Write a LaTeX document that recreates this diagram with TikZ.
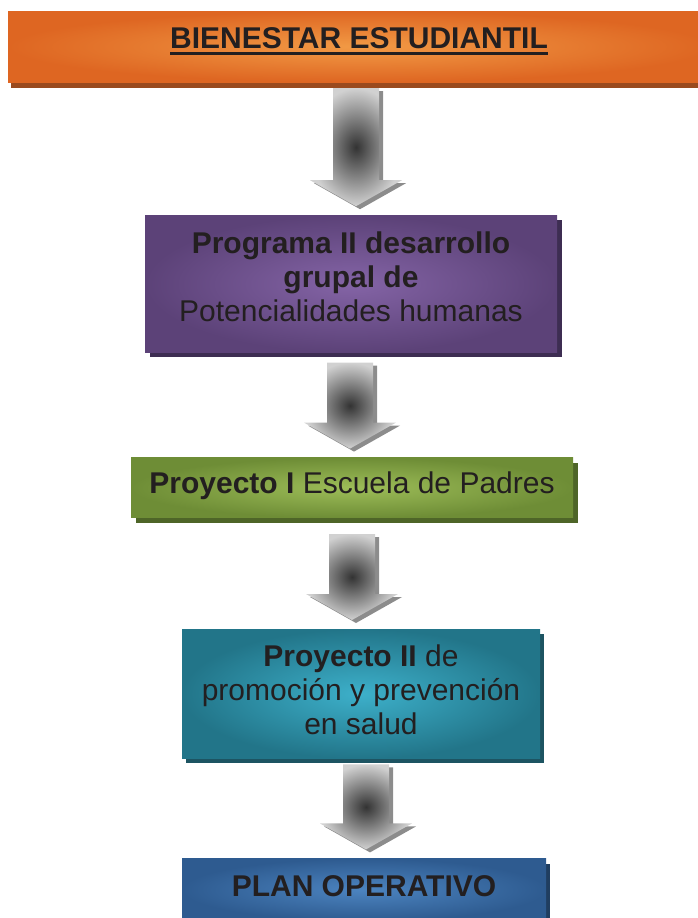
\documentclass[tikz,border=0pt]{standalone}
\usepackage{fontspec}
\setmainfont{Liberation Sans}
\usetikzlibrary{positioning,calc,shadows}

\definecolor{txt}{HTML}{231F20}
\definecolor{orgin}{HTML}{F29A45}
\definecolor{orgout}{HTML}{DE6622}
\definecolor{orgsh}{HTML}{9A4A1E}
\definecolor{purin}{HTML}{8464A6}
\definecolor{purout}{HTML}{5C4278}
\definecolor{pursh}{HTML}{3D2D52}
\definecolor{grnin}{HTML}{9DBD58}
\definecolor{grnout}{HTML}{6E8D36}
\definecolor{grnsh}{HTML}{4E6528}
\definecolor{tealin}{HTML}{3DB0CA}
\definecolor{tealout}{HTML}{227589}
\definecolor{tealsh}{HTML}{1D5462}
\definecolor{bluin}{HTML}{4C84C0}
\definecolor{bluout}{HTML}{2E5B90}
\definecolor{blush}{HTML}{203E60}

\newcommand\ultitle[1]{\setbox0\hbox{#1}\rlap{\rule[-7pt]{\wd0}{3pt}}\box0}

\begin{document}
\begin{tikzpicture}[
  x=1pt,y=1pt,
  font=\fontsize{30}{34}\selectfont,
  box/.style={rectangle,inner sep=0pt,align=center,text=txt,shading=radial},
  orgbox/.style={box,inner color=orgin,outer color=orgout,
    drop shadow={shadow xshift=3pt,shadow yshift=-6pt,fill=orgsh,opacity=1}},
  purbox/.style={box,inner color=purin,outer color=purout,
    drop shadow={shadow xshift=5pt,shadow yshift=-5pt,fill=pursh,opacity=1}},
  grnbox/.style={box,inner color=grnin,outer color=grnout,
    drop shadow={shadow xshift=5pt,shadow yshift=-5pt,fill=grnsh,opacity=1}},
  tealbox/.style={box,inner color=tealin,outer color=tealout,
    drop shadow={shadow xshift=4pt,shadow yshift=-5pt,fill=tealsh,opacity=1}},
  blubox/.style={box,inner color=bluin,outer color=bluout,
    drop shadow={shadow xshift=4pt,shadow yshift=-5pt,fill=blush,opacity=1}},
  fatarrow/.style={shading=radial,inner color=black!80,outer color=black!18,
    drop shadow={shadow xshift=4pt,shadow yshift=-3pt,fill=black!45,opacity=1}}
]
\useasboundingbox (0,0) rectangle (697,-918);

\node[orgbox,minimum width=702pt,minimum height=71pt,text depth=17pt] (top) at (359,-46.5)
  {\ultitle{\textbf{BIENESTAR ESTUDIANTIL}}};
\node[purbox,minimum width=412pt,minimum height=137pt,text depth=14pt,
  below=133pt of top,xshift=-8pt] (prog)
  {\textbf{Programa II desarrollo}\\ \textbf{grupal de}\\ Potencialidades humanas};
\node[grnbox,minimum width=442pt,minimum height=60pt,text depth=10pt,
  below=105pt of prog,xshift=1pt] (proy1)
  {\textbf{Proyecto I} Escuela de Padres};
\node[tealbox,minimum width=358pt,minimum height=129pt,text depth=9pt,
  below=111pt of proy1,xshift=9pt] (proy2)
  {\textbf{Proyecto II} de\\ promoción y prevención\\ en salud};
\node[blubox,minimum width=364pt,minimum height=62pt,text depth=8pt,
  below=100pt of proy2,xshift=3pt] (plan)
  {\textbf{PLAN OPERATIVO}};

% flechas entre cajas
\foreach \a/\b/\dx/\gap in {top/prog/-3/6,prog/proy1/-1/10,proy1/proy2/0/16,proy2/plan/5/6}
  \path[fatarrow] let \p1=($(\a.south)+(\dx,-\gap)$), \p2=($(\b.north)+(0,9)$) in
    (\x1-23,\y1) -- (\x1+23,\y1) -- (\x1+23,\y2+26) -- (\x1+46,\y2+26)
    -- (\x1,\y2) -- (\x1-46,\y2+26) -- (\x1-23,\y2+26) -- cycle;
\end{tikzpicture}
\end{document}
